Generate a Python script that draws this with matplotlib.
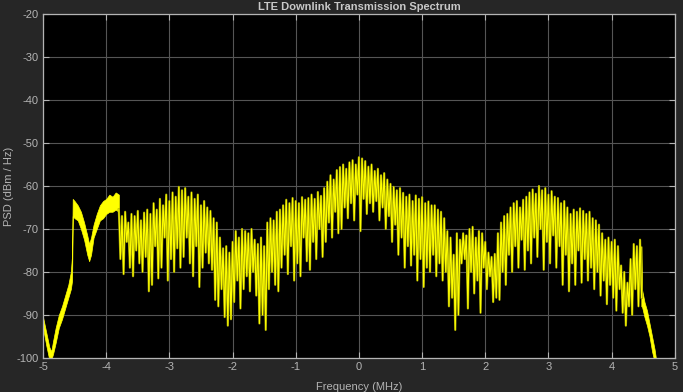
"""LTE downlink transmission spectrum, MATLAB spectrum-analyzer look."""
import matplotlib
matplotlib.use("Agg")
import matplotlib.pyplot as plt
import numpy as np

plt.rcParams.update({
    "font.family": ["Liberation Sans", "DejaVu Sans"],
    "font.size": 8,
    "axes.unicode_minus": False,
})

BG_FIG = "#262626"
BG_AX = "#000000"
FG = "#b4b4b4"
GRID = "#555555"
TRACE = "#ffff00"
TRACE_DIM = "#8c8c00"

# Smooth band below the occupied channel (left edge), MHz / dBm/Hz
left_f = [-5.00, -4.95, -4.90, -4.87, -4.84, -4.80, -4.75, -4.70, -4.65, -4.60,
          -4.56, -4.54, -4.53, -4.50, -4.45, -4.40, -4.35, -4.30, -4.27, -4.24,
          -4.20, -4.15, -4.10, -4.05, -4.00, -3.95, -3.90, -3.85, -3.80]
left_hi = [-90.5, -94.0, -97.5, -98.5, -96.0, -93.0, -90.0, -88.0, -85.5, -83.0,
           -80.0, -76.0, -63.0, -63.5, -64.5, -66.0, -68.5, -71.5, -73.5, -72.0,
           -69.0, -66.5, -64.5, -63.5, -63.0, -62.0, -62.5, -61.5, -62.0]
left_lo = [-93.0, -97.0, -100.5, -100.5, -99.0, -96.5, -93.0, -91.0, -88.5, -86.0,
           -84.0, -82.0, -67.0, -67.5, -68.0, -70.0, -72.5, -76.0, -77.5, -76.0,
           -72.0, -70.0, -68.0, -67.5, -66.5, -66.0, -66.0, -65.5, -66.0]

# Roll-off above the channel (right edge)
right_f = [4.47, 4.48, 4.52, 4.56, 4.60, 4.64, 4.68, 4.70]
right_hi = [-74.0, -84.0, -87.0, -89.0, -92.0, -95.0, -98.0, -100.0]
right_lo = [-88.0, -88.0, -90.5, -92.5, -95.0, -98.5, -101.0, -102.0]

# Comb of subcarrier peaks and the dips between them, -3.80 .. 4.45 MHz
comb_f = np.round(np.arange(-3.80, 4.451, 0.05), 2)
comb_peak = [
    -65.5, -67.0, -66.0, -68.5, -66.5, -67.0, -65.8, -68.0, -66.2, -65.5,
    -66.5, -64.0, -65.5, -63.0, -64.5, -62.0, -63.5, -61.5, -62.5, -60.2,
    -61.0, -60.5, -62.5, -61.5, -63.0, -62.0, -64.5, -63.5, -65.0, -65.8,
    -67.5, -68.5, -72.0, -74.5, -74.0, -75.5, -73.0, -70.5, -72.0, -70.0,
    -70.5, -71.0, -70.0, -72.5, -73.5, -72.0, -74.0, -68.5, -67.5, -68.0,
    -66.0, -65.5, -64.5, -63.2, -64.0, -62.8, -63.5, -64.0, -62.6, -63.2,
    -62.8, -62.0, -63.0, -61.4, -62.3, -60.5, -59.0, -57.5, -58.5, -56.3,
    -55.6, -55.0, -56.0, -54.5, -54.0, -55.0, -53.3, -53.6, -54.2, -55.5,
    -55.0, -56.5, -56.0, -57.5, -57.0, -58.5, -59.5, -60.2, -61.0, -60.5,
    -61.6, -62.5, -62.0, -63.5, -62.2, -63.0, -62.6, -64.0, -63.6, -64.5,
    -64.5, -65.5, -66.0, -67.5, -70.5, -72.0, -76.0, -71.0, -72.5, -71.0,
    -71.5, -70.0, -69.5, -72.0, -70.5, -71.0, -73.0, -75.5, -76.5, -75.8,
    -71.0, -68.5, -67.0, -66.5, -65.0, -64.0, -63.5, -65.0, -63.2, -62.5,
    -61.5, -60.8, -61.8, -60.0, -61.0, -60.5, -62.0, -61.2, -62.5, -62.8,
    -64.0, -63.5, -65.0, -66.5, -65.5, -66.0, -65.2, -65.8, -66.5, -66.0,
    -67.5, -68.0, -69.0, -71.0, -72.5, -72.0, -73.0, -72.5, -74.0, -78.5,
    -80.0, -82.5, -77.0, -73.5, -74.0, -72.5,
]
comb_dip = [
    -77.0, -80.5, -73.0, -79.0, -81.0, -75.0, -78.0, -80.0, -76.5, -84.5,
    -83.0, -74.0, -81.5, -79.0, -72.0, -82.0, -77.0, -80.0, -74.5, -79.0,
    -76.5, -72.0, -78.0, -81.0, -74.0, -83.5, -79.0, -75.5, -78.0, -79.5,
    -86.5, -88.0, -84.0, -90.5, -92.5, -91.0, -87.0, -82.0, -88.5, -84.0,
    -81.0, -84.5, -80.0, -85.5, -92.0, -90.0, -93.5, -84.0, -80.0, -83.0,
    -84.5, -79.0, -76.0, -80.5, -74.0, -82.0, -78.0, -81.0, -72.0, -77.5,
    -79.5, -73.0, -77.0, -70.0, -76.5, -73.0, -68.5, -72.0, -66.0, -71.0,
    -70.0, -65.0, -67.5, -64.0, -68.0, -62.0, -70.5, -63.0, -66.5, -64.0,
    -66.0, -63.5, -68.0, -65.0, -70.0, -67.0, -73.0, -69.0, -76.0, -72.0,
    -79.0, -74.0, -78.5, -76.0, -82.0, -77.0, -83.5, -79.0, -80.0, -76.0,
    -81.0, -78.0, -82.0, -80.0, -88.0, -86.0, -93.5, -90.0, -78.0, -77.0,
    -88.5, -80.0, -85.0, -82.0, -89.5, -79.0, -84.0, -81.0, -87.0, -86.0,
    -86.5, -80.0, -83.0, -76.0, -80.0, -74.0, -79.0, -72.5, -79.5, -75.0,
    -78.0, -72.0, -76.5, -70.0, -79.5, -73.0, -78.0, -71.5, -79.0, -74.0,
    -83.0, -76.0, -84.5, -78.0, -83.0, -75.0, -82.5, -77.0, -82.0, -79.0,
    -84.0, -80.0, -85.5, -82.0, -87.5, -83.0, -86.0, -89.0, -84.0, -89.5,
    -92.5, -88.0, -90.0, -84.0, -88.0, -86.0,
]

x_ticks = np.arange(-5, 6, 1)
y_ticks = np.arange(-100, -19, 10)


def main():
    fig = plt.figure(figsize=(6.83, 3.92), dpi=100, facecolor=BG_FIG)
    ax = fig.add_axes([0.063, 0.087, 0.925, 0.877], facecolor=BG_AX)

    # Smooth edge bands
    ax.fill_between(left_f, left_lo, left_hi, color=TRACE, lw=0.5, ec=TRACE)
    ax.fill_between(right_f, right_lo, right_hi, color=TRACE, lw=0.5, ec=TRACE)

    # Comb: trace goes peak -> dip -> next peak
    zig_f = np.empty(2 * len(comb_f))
    zig_v = np.empty(2 * len(comb_f))
    zig_f[0::2] = comb_f
    zig_f[1::2] = comb_f + 0.025
    zig_v[0::2] = comb_peak
    zig_v[1::2] = comb_dip
    ax.plot(zig_f, zig_v, color=TRACE_DIM, lw=1.6)
    ax.plot(zig_f, zig_v, color=TRACE, lw=0.8)

    ax.set_xlim(-5, 5)
    ax.set_ylim(-100, -20)
    ax.set_xticks(x_ticks)
    ax.set_yticks(y_ticks)
    ax.grid(True, color=GRID, lw=0.8)
    ax.set_axisbelow(True)
    ax.tick_params(direction="in", length=4, colors=FG, labelcolor=FG,
                   top=True, right=True, labelsize=8, pad=3)
    for s in ax.spines.values():
        s.set_color(FG)
        s.set_linewidth(0.9)

    ax.set_xlabel("Frequency (MHz)", color=FG, fontsize=8)
    ax.set_ylabel("PSD (dBm / Hz)", color=FG, fontsize=8)
    ax.xaxis.set_label_coords(0.5, -0.07)
    ax.yaxis.set_label_coords(-0.046, 0.5)
    ax.set_title("LTE Downlink Transmission Spectrum", color="#c8c8c8",
                 fontsize=8, fontweight="bold", pad=3)

    fig.savefig("out.png", dpi=100, facecolor=BG_FIG)
    plt.close(fig)


if __name__ == "__main__":
    main()
